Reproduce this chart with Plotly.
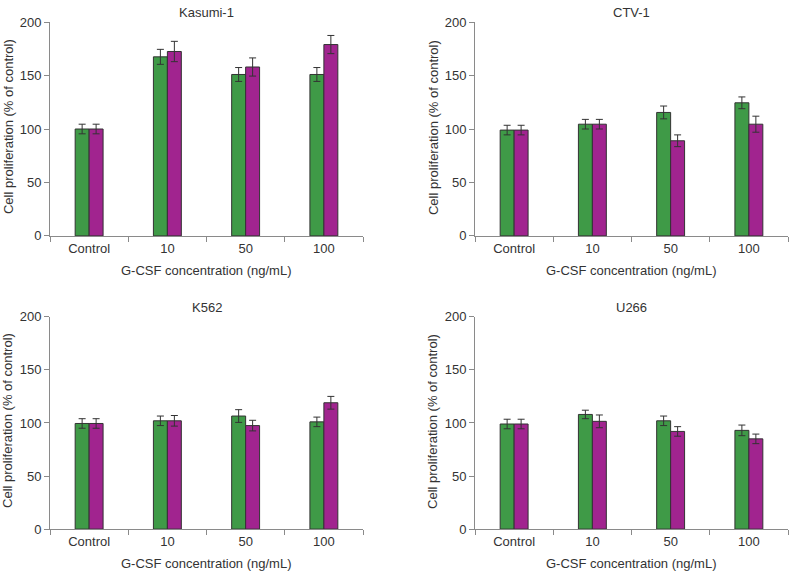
import plotly.graph_objects as go

categories = ["Control", "10", "50", "100"]
panel_titles = ["Kasumi-1", "CTV-1", "K562", "U266"]

kasumi_green = [100, 167.5, 151, 151]
kasumi_green_err = [4.5, 7, 6.5, 6.5]
kasumi_magenta = [100, 172.5, 158, 179]
kasumi_magenta_err = [4.5, 9.5, 8.5, 8.5]

ctv_green = [99, 104.5, 115.5, 124.5]
ctv_green_err = [4.5, 4.5, 6, 5.5]
ctv_magenta = [99, 104.5, 89, 104.5]
ctv_magenta_err = [4.5, 4.5, 5.5, 7.5]

k562_green = [99.5, 102, 106.5, 101]
k562_green_err = [4.5, 4.5, 6, 4.5]
k562_magenta = [99.5, 102, 97.5, 119]
k562_magenta_err = [4.5, 5, 5, 6]

u266_green = [99, 108, 102, 93]
u266_green_err = [4.5, 4, 4.5, 5]
u266_magenta = [99, 101.5, 92, 85]
u266_magenta_err = [4.5, 6, 4.5, 4.5]

y_ticks = [0, 50, 100, 150, 200]
x_title = "G-CSF concentration (ng/mL)"
y_title = "Cell proliferation (% of control)"

GREEN = "#3f9a47"
MAGENTA = "#a1248f"
TEXT = "#333333"
AXIS = "#8a8a8a"
FONT = "Liberation Sans, Arial, sans-serif"

W, H = 789, 579

panels = [
    (kasumi_green, kasumi_green_err, kasumi_magenta, kasumi_magenta_err),
    (ctv_green, ctv_green_err, ctv_magenta, ctv_magenta_err),
    (k562_green, k562_green_err, k562_magenta, k562_magenta_err),
    (u266_green, u266_green_err, u266_magenta, u266_magenta_err),
]

# plot-area pixel boxes (left, right, top, bottom)
boxes = [
    (50, 363, 15.5, 235),
    (475, 788, 15.5, 235),
    (50, 363, 318, 536),
    (475, 788, 318, 536),
]

fig = go.Figure()
annotations = []
for i, (data, box) in enumerate(zip(panels, boxes)):
    g, ge, m, me = data
    xa = "x" if i == 0 else f"x{i+1}"
    ya = "y" if i == 0 else f"y{i+1}"
    for vals, errs, col in ((g, ge, GREEN), (m, me, MAGENTA)):
        fig.add_trace(go.Bar(
            x=categories, y=vals, xaxis=xa, yaxis=ya,
            marker=dict(color=col, line=dict(color="#333333", width=1)),
            error_y=dict(type="data", array=errs, color="#333333",
                         thickness=1, width=3.5),
            showlegend=False, hoverinfo="skip",
        ))
    l, r, t, b = box
    xkey = "xaxis" if i == 0 else f"xaxis{i+1}"
    ykey = "yaxis" if i == 0 else f"yaxis{i+1}"
    fig.layout[xkey] = dict(
        domain=[l / W, r / W], anchor=ya, type="category",
        showline=True, linecolor=AXIS, linewidth=1,
        ticks="outside", tickson="boundaries", ticklen=5,
        tickcolor=AXIS, tickwidth=1, showgrid=False, zeroline=False,
        tickfont=dict(size=13, color=TEXT, family=FONT),
        fixedrange=True,
    )
    fig.layout[ykey] = dict(
        domain=[1 - b / H, 1 - t / H], anchor=xa, range=[0, 200],
        tickvals=y_ticks, showline=True, linecolor=AXIS, linewidth=1,
        ticks="outside", ticklen=5, tickcolor=AXIS, tickwidth=1,
        showgrid=False, zeroline=False,
        tickfont=dict(size=13, color=TEXT, family=FONT),
        fixedrange=True,
    )
    cx = (l + r) / 2
    annotations.append(dict(text=panel_titles[i], x=cx / W, y=1 - (t - 9.5) / H,
                            xref="paper", yref="paper", showarrow=False,
                            xanchor="center", yanchor="middle",
                            font=dict(size=13, color=TEXT, family=FONT)))
    annotations.append(dict(text=x_title, x=cx / W, y=1 - (b + 35.5) / H,
                            xref="paper", yref="paper", showarrow=False,
                            xanchor="center", yanchor="middle",
                            font=dict(size=13, color=TEXT, family=FONT)))
    annotations.append(dict(text=y_title, x=(l - 42) / W, y=1 - ((t + b) / 2 - 2) / H,
                            xref="paper", yref="paper", showarrow=False,
                            xanchor="center", yanchor="middle", textangle=-90,
                            font=dict(size=13, color=TEXT, family=FONT)))

fig.update_layout(
    autosize=True, margin=dict(l=0, r=0, t=0, b=0),
    paper_bgcolor="white", plot_bgcolor="white",
    barmode="group", bargap=0.643, bargroupgap=0,
    annotations=annotations,
    font=dict(family=FONT, color=TEXT, size=13),
)

fig.write_html(
    "out.html",
    config={"displayModeBar": False},
    default_width=f"{W}px",
    default_height=f"{H}px; position:absolute; top:0; left:0; margin:0",
    post_script="document.body.style.margin='0';document.body.style.overflow='hidden';",
)
